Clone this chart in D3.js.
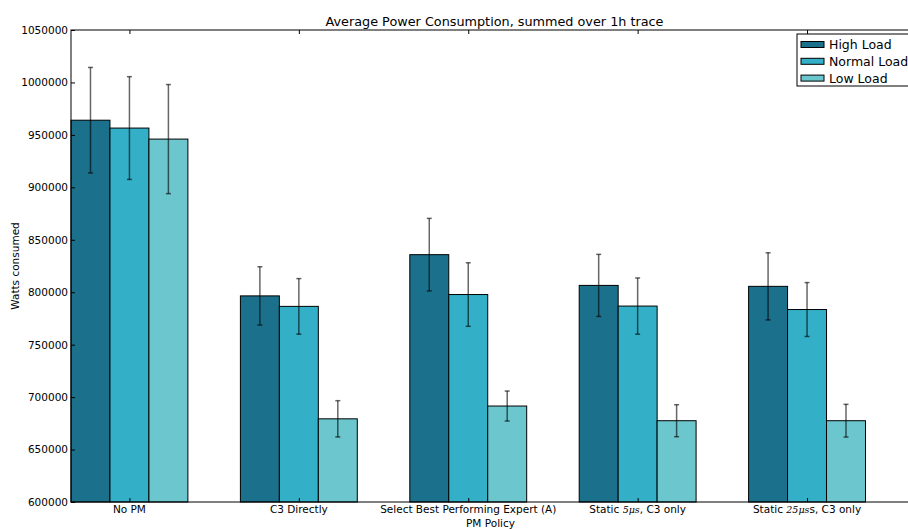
<!DOCTYPE html>
<html>
<head>
<meta charset="utf-8">
<script src="https://cdn.jsdelivr.net/npm/d3@7"></script>
<style>
  html, body { margin: 0; padding: 0; background: #fff; }
  svg { display: block; font-family: "DejaVu Sans", sans-serif; }
</style>
</head>
<body>
<svg id="chart" width="908" height="529"></svg>
<script>
// PM policies along the x axis
const policies = [
  "No PM",
  "C3 Directly",
  "Select Best Performing Expert (A)",
  "Static 5μs, C3 only",
  "Static 25μss, C3 only"
];
// Series: mean power per policy and the error half-widths
const seriesNames = ["High Load", "Normal Load", "Low Load"];
const highLoad   = [964000, 796500, 835800, 806500, 805600];
const normalLoad = [956500, 786500, 797800, 786800, 783500];
const lowLoad    = [946000, 679300, 691500, 677500, 677500];
const highErr    = [50300, 27800, 34600, 29600, 32000];
const normalErr  = [49000, 26500, 30300, 26800, 25700];
const lowErr     = [52000, 17300, 14300, 15250, 15600];
const yTicks = [600000, 650000, 700000, 750000, 800000, 850000, 900000, 950000, 1000000, 1050000];
const colors = ["#1b718b", "#33b0c7", "#6bc6ce"];

const svg = d3.select("#chart");
const mLeft = 71, mRight = 918, mTop = 30, mBottom = 502;
const barW = 0.23;

const x = d3.scaleLinear().domain([0, 5]).range([mLeft, mRight]);
const y = d3.scaleLinear().domain([600000, 1050000]).range([mBottom, mTop]);

const values = [highLoad, normalLoad, lowLoad];
const errs = [highErr, normalErr, lowErr];
const bars = [];
values.forEach((arr, k) => arr.forEach((v, i) => bars.push({ k, i, v, e: errs[k][i] })));

const plot = svg.append("g");

// bars
plot.selectAll("rect.bar").data(bars).join("rect")
  .attr("class", "bar")
  .attr("x", d => x(d.i + d.k * barW))
  .attr("width", d => x(barW) - x(0))
  .attr("y", d => y(d.v))
  .attr("height", d => y(600000) - y(d.v))
  .attr("fill", d => colors[d.k])
  .attr("stroke", "#000")
  .attr("stroke-width", 1);

// error bars
const eb = plot.selectAll("g.err").data(bars).join("g")
  .attr("class", "err")
  .attr("stroke", "#000")
  .attr("stroke-opacity", 0.6)
  .attr("stroke-width", 1.5);
const cx = d => x(d.i + d.k * barW + barW / 2);
eb.append("line")
  .attr("x1", cx).attr("x2", cx)
  .attr("y1", d => y(d.v + d.e)).attr("y2", d => y(d.v - d.e));
eb.append("line")
  .attr("x1", d => cx(d) - 2.5).attr("x2", d => cx(d) + 2.5)
  .attr("y1", d => y(d.v + d.e)).attr("y2", d => y(d.v + d.e));
eb.append("line")
  .attr("x1", d => cx(d) - 2.5).attr("x2", d => cx(d) + 2.5)
  .attr("y1", d => y(d.v - d.e)).attr("y2", d => y(d.v - d.e));

// frame
svg.append("rect")
  .attr("x", mLeft).attr("y", mTop)
  .attr("width", mRight - mLeft).attr("height", mBottom - mTop)
  .attr("fill", "none").attr("stroke", "#000").attr("stroke-width", 1);

// y axis (ticks pointing inward)
const yAxis = d3.axisLeft(y).tickValues(yTicks).tickFormat(d3.format("d")).tickSizeInner(-4).tickSizeOuter(0).tickPadding(3);
const gy = svg.append("g").attr("transform", `translate(${mLeft},0)`).call(yAxis);
gy.select(".domain").remove();
gy.selectAll("text").attr("font-size", "10.5px").attr("font-family", "DejaVu Sans").attr("fill", "#000");
const gy2 = svg.append("g").attr("transform", `translate(${mRight},0)`)
  .call(d3.axisRight(y).tickValues(yTicks).tickFormat("").tickSizeInner(-4).tickSizeOuter(0));
gy2.select(".domain").remove();

// x axis: group centers
const centers = policies.map((p, i) => i + 1.5 * barW);
const xAxis = d3.axisBottom(x).tickValues(centers).tickFormat("").tickSizeInner(-4).tickSizeOuter(0);
const gx = svg.append("g").attr("transform", `translate(0,${mBottom})`).call(xAxis);
gx.select(".domain").remove();
const gx2 = svg.append("g").attr("transform", `translate(0,${mTop})`)
  .call(d3.axisTop(x).tickValues(centers).tickFormat("").tickSizeInner(-4).tickSizeOuter(0));
gx2.select(".domain").remove();

// x tick labels, with the timing values set as math italic
const labelParts = [
  [["No PM", false]],
  [["C3 Directly", false]],
  [["Select Best Performing Expert (A)", false]],
  [["Static ", false], ["5μs", true], [", C3 only", false]],
  [["Static ", false], ["25μs", true], ["s, C3 only", false]]
];
policies.forEach((p, i) => {
  const t = svg.append("text")
    .attr("x", x(centers[i])).attr("y", mBottom + 11)
    .attr("text-anchor", "middle")
    .attr("font-size", "10.5px").attr("fill", "#000");
  labelParts[i].forEach(([s, m]) => {
    const ts = t.append("tspan").text(s);
    if (m) ts.attr("font-family", "DejaVu Serif").attr("font-style", "italic").attr("font-size", "9.5px");
  });
});

// titles
svg.append("text").attr("x", (mLeft + mRight) / 2).attr("y", 25.5)
  .attr("text-anchor", "middle").attr("font-size", "12.8px").attr("fill", "#000")
  .text("Average Power Consumption, summed over 1h trace");
svg.append("text").attr("x", (mLeft + mRight) / 2 - 4).attr("y", 527)
  .attr("text-anchor", "middle").attr("font-size", "10.5px").attr("fill", "#000")
  .text("PM Policy");
svg.append("text").attr("transform", `translate(19,${(mTop + mBottom) / 2}) rotate(-90)`)
  .attr("text-anchor", "middle").attr("font-size", "10.5px").attr("fill", "#000")
  .text("Watts consumed");

// legend
const lg = svg.append("g").attr("transform", "translate(797,34)");
lg.append("rect").attr("x", 0).attr("y", 0).attr("width", 130).attr("height", 52)
  .attr("fill", "#fff").attr("stroke", "#000").attr("stroke-width", 1);
seriesNames.forEach((n, k) => {
  const yy = 7.5 + k * 16.8;
  lg.append("rect").attr("x", 4).attr("y", yy).attr("width", 23).attr("height", 6)
    .attr("fill", colors[k]).attr("stroke", "#000").attr("stroke-width", 1);
  lg.append("text").attr("x", 32).attr("y", yy + 7.5)
    .attr("font-size", "12.5px").attr("fill", "#000").text(n);
});
</script>
</body>
</html>
